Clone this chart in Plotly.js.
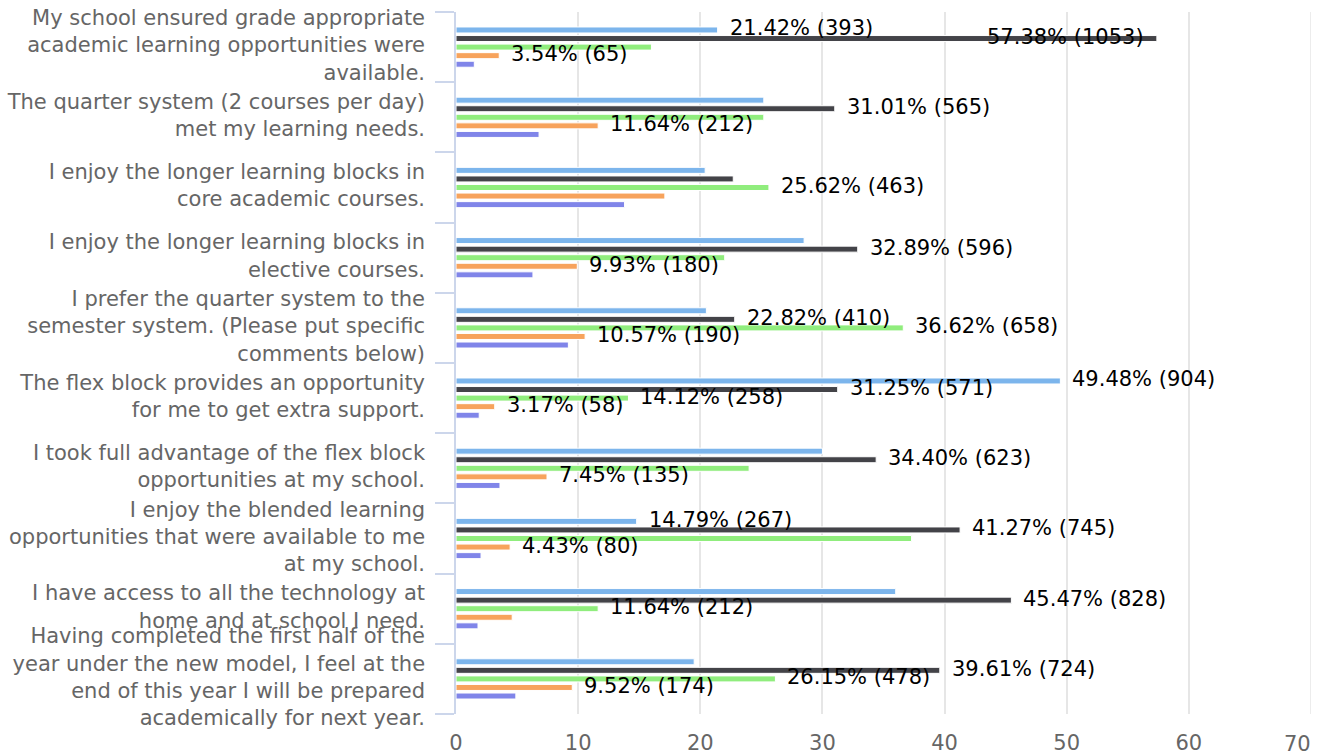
<!DOCTYPE html>
<html>
<head>
<meta charset="utf-8">
<script src="https://cdn.plot.ly/plotly-3.0.1.min.js"></script>
<style>
  html, body { margin: 0; padding: 0; background: #fff; }
  #chart { width: 1321px; height: 756px; }
</style>
</head>
<body>
<div id="chart"></div>
<script>
// ---- Data (categories top to bottom) ----
var categories = [
  "My school ensured grade appropriate academic learning opportunities were available.",
  "The quarter system (2 courses per day) met my learning needs.",
  "I enjoy the longer learning blocks in core academic courses.",
  "I enjoy the longer learning blocks in elective courses.",
  "I prefer the quarter system to the semester system. (Please put specific comments below)",
  "The flex block provides an opportunity for me to get extra support.",
  "I took full advantage of the flex block opportunities at my school.",
  "I enjoy the blended learning opportunities that were available to me at my school.",
  "I have access to all the technology at home and at school I need.",
  "Having completed the first half of the year under the new model, I feel at the end of this year I will be prepared academically for next year."
];
var tickLabels = [
  "My school ensured grade appropriate<br>academic learning opportunities were<br>available.",
  "The quarter system (2 courses per day)<br>met my learning needs.",
  "I enjoy the longer learning blocks in<br>core academic courses.",
  "I enjoy the longer learning blocks in<br>elective courses.",
  "I prefer the quarter system to the<br>semester system. (Please put specific<br>comments below)",
  "The flex block provides an opportunity<br>for me to get extra support.",
  "I took full advantage of the flex block<br>opportunities at my school.",
  "I enjoy the blended learning<br>opportunities that were available to me<br>at my school.",
  "I have access to all the technology at<br>home and at school I need.",
  "Having completed the first half of the<br>year under the new model, I feel at the<br>end of this year I will be prepared<br>academically for next year."
];
var seriesNames = ["Series 1", "Series 2", "Series 3", "Series 4", "Series 5"];

// x axis ticks
var xTickVals = [0, 10, 20, 30, 40, 50, 60, 70];

// percentages
var s1Pct = [21.42, 25.2, 20.4, 28.5, 20.5, 49.48, 30.0, 14.79, 36.0, 19.5];
var s2Pct = [57.38, 31.01, 22.7, 32.89, 22.82, 31.25, 34.40, 41.27, 45.47, 39.61];
var s3Pct = [16.0, 25.2, 25.62, 22.0, 36.62, 14.12, 24.0, 37.3, 11.64, 26.15];
var s4Pct = [3.54, 11.64, 17.1, 9.93, 10.57, 3.17, 7.45, 4.43, 4.6, 9.52];
var s5Pct = [1.5, 6.8, 13.8, 6.3, 9.2, 1.9, 3.6, 2.05, 1.8, 4.9];

// response counts (only those shown as labels; null = label not shown)
var s1Count = [393, null, null, null, null, 904, null, 267, null, null];
var s2Count = [1053, 565, null, 596, 410, 571, 623, 745, 828, 724];
var s3Count = [null, null, 463, null, 658, 258, null, null, 212, 478];
var s4Count = [65, 212, null, 180, 190, 58, 135, 80, null, 174];
var s5Count = [null, null, null, null, null, null, null, null, null, null];

var colors = ["#7cb5ec", "#434348", "#90ed7d", "#f7a35c", "#8085e9"];
var pcts = [s1Pct, s2Pct, s3Pct, s4Pct, s5Pct];
var counts = [s1Count, s2Count, s3Count, s4Count, s5Count];

var FONT = "DejaVu Sans";
var XMAX = xTickVals[xTickVals.length - 1];
var BARGAP = 0.39;

var traces = pcts.map(function (p, i) {
  return {
    type: "bar",
    orientation: "h",
    name: seriesNames[i],
    x: p,
    y: categories,
    marker: { color: colors[i], line: { color: "#ffffff", width: 1 } },
    hoverinfo: "x+y+name"
  };
});

// data labels as annotations located at bar ends via the axes
var annotations = [];
var nS = pcts.length;
var slot = (1 - BARGAP) / nS;
pcts.forEach(function (p, i) {
  p.forEach(function (v, j) {
    var c = counts[i][j];
    if (c === null || c === undefined) return;
    var txt = v.toFixed(2) + "% (" + c + ")";
    var yPos = j - (1 - BARGAP) / 2 + (i + 0.5) * slot;
    // if label would run past the plot edge, place it inside the bar end
    var estWidth = txt.length * 11.2 / 12.2; // in data units
    var inside = v + 1.1 + estWidth > XMAX;
    annotations.push({
      x: v, y: yPos, xref: "x", yref: "y",
      text: txt, showarrow: false,
      xanchor: inside ? "right" : "left",
      yanchor: "middle",
      xshift: inside ? -11 : 10,
      yshift: 1.5,
      font: { family: FONT, size: 21, color: "#000000" }
    });
  });
});

// last x tick label is kept inside the chart (justified left of its gridline)
var xTickText = xTickVals.map(function (v, k) { return k === xTickVals.length - 1 ? "" : String(v); });
annotations.push({
  x: XMAX, xref: "x", y: 0, yref: "paper", yanchor: "top", xanchor: "right",
  yshift: -16, xshift: 2,
  text: String(XMAX), showarrow: false,
  font: { family: FONT, size: 21, color: "#666666" }
});

var layout = {
  width: 1321, height: 756,
  margin: { l: 456, r: 10, t: 12, b: 42, pad: 0 },
  paper_bgcolor: "#ffffff", plot_bgcolor: "#ffffff",
  barmode: "group",
  bargap: BARGAP,
  bargroupgap: 0.3,
  showlegend: false,
  font: { family: FONT, size: 21, color: "#666666" },
  xaxis: {
    range: [0, XMAX],
    tickmode: "array", tickvals: xTickVals, ticktext: xTickText,
    showgrid: true, gridcolor: "#e6e6e6", gridwidth: 1.5,
    zeroline: false, showline: false, ticks: "",
    ticklabelstandoff: 14,
    tickfont: { family: FONT, size: 21, color: "#666666" }
  },
  yaxis: {
    type: "category",
    autorange: "reversed",
    tickmode: "array", tickvals: categories, ticktext: tickLabels,
    tickson: "boundaries",
    ticks: "outside", ticklen: 19, tickcolor: "#ccd6eb", tickwidth: 1.5,
    showline: true, linecolor: "#ccd6eb", linewidth: 1.5,
    showgrid: false, zeroline: false,
    ticklabelstandoff: 25,
    ticklabelshift: 2,
    tickfont: { family: FONT, size: 21, color: "#666666" }
  },
  shapes: [{
    type: "line", xref: "x", yref: "paper",
    x0: XMAX, x1: XMAX, y0: 0, y1: 1,
    line: { color: "#e6e6e6", width: 1.5 }, layer: "below"
  }],
  annotations: annotations
};

Plotly.newPlot("chart", traces, layout, { displayModeBar: false });
</script>
</body>
</html>
